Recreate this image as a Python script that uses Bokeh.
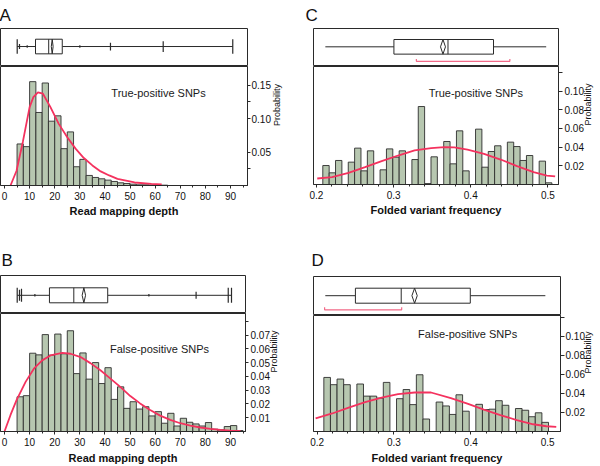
import math
from bokeh.plotting import figure
from bokeh.models import Range1d, FixedTicker, Label
from bokeh.layouts import column, row
from bokeh.embed import file_html
from bokeh.resources import INLINE

# ---------------- data ----------------
PANEL_LETTERS = ["A", "B", "C", "D"]
GROUP_TEXT = ["True-positive SNPs", "False-positive SNPs", "True-positive SNPs", "False-positive SNPs"]
X_TITLES = ["Read mapping depth", "Read mapping depth", "Folded variant frequency", "Folded variant frequency"]
Y_TITLE = "Probability"

DEPTH_XTICKS = [0, 10, 20, 30, 40, 50, 60, 70, 80, 90]
DEPTH_XTICK_LABELS = ["0", "10", "20", "30", "40", "50", "60", "70", "80", "90"]
DEPTH_XMINOR = [5, 15, 25, 35, 45, 55, 65, 75, 85, 95]
FREQ_XTICKS = [0.2, 0.3, 0.4, 0.5]
FREQ_XTICK_LABELS = ["0.2", "0.3", "0.4", "0.5"]
FREQ_XMINOR = [0.22, 0.24, 0.26, 0.28, 0.32, 0.34, 0.36, 0.38, 0.42, 0.44, 0.46, 0.48]

A_YTICKS = [0.025, 0.05, 0.10, 0.125, 0.15]
A_YTICK_LABELS = ["", "0.05", "0.10", "", "0.15"]
B_YTICKS = [0.01, 0.02, 0.03, 0.04, 0.05, 0.06, 0.07, 0.08]
B_YTICK_LABELS = ["0.01", "0.02", "0.03", "0.04", "0.05", "0.06", "0.07", ""]
CD_YTICKS = [0.02, 0.04, 0.06, 0.08, 0.10, 0.12]
CD_YTICK_LABELS = ["0.02", "0.04", "0.06", "0.08", "0.10", ""]

# A: true-positive SNPs, read mapping depth
A_BIN_START = 5.0
A_BIN_WIDTH = 2.5
A_HIST = [0.062, 0.058, 0.155, 0.109, 0.153, 0.096, 0.104, 0.055, 0.080, 0.028,
          0.039, 0.015, 0.012, 0.010, 0.008, 0.006, 0.004, 0.003, 0.002, 0.001,
          0.001, 0.0007, 0.0005, 0.0005]
A_CURVE_X = [2.4, 4.8, 7.3, 10.0, 11.5, 13.3, 15.3, 18.3, 21.6, 25.0, 28.3, 31.6,
             35.0, 38.3, 41.7, 45.0, 51.8, 58.5, 62.6]
A_CURVE_Y = [0.0, 0.022, 0.065, 0.117, 0.132, 0.139, 0.137, 0.117, 0.092, 0.072,
             0.055, 0.041, 0.030, 0.021, 0.015, 0.010, 0.0045, 0.0025, 0.0015]
A_BOX = [5.06, 12.35, 17.6, 23.0, 90.9]       # whisker low, Q1, median, Q3, whisker high
A_MEAN = 19.0
A_MARKS = [5.06, 5.97, 9.04, 30.0, 42.2, 63.2, 90.9]

# B: false-positive SNPs, read mapping depth
B_BIN_START = 5.0
B_BIN_WIDTH = 2.5
B_HIST = [0.0252, 0.026, 0.0568, 0.0556, 0.0703, 0.0554, 0.0707, 0.0564, 0.0731, 0.042,
          0.057, 0.038, 0.050, 0.0348, 0.0463, 0.0233, 0.0324, 0.0168, 0.0216, 0.0163,
          0.018, 0.0113, 0.0144, 0.006, 0.0132, 0.004, 0.0096, 0.0067, 0.0055, 0.004,
          0.0065, 0.0017, 0.0012, 0.0036, 0.0043, 0.0007]
B_CURVE_X = [0.0, 2.4, 4.8, 8.4, 11.7, 15.0, 18.3, 23.0, 26.3, 30.3, 34.2, 38.2, 42.2,
             46.1, 50.1, 54.0, 58.0, 62.0, 66.0, 70.0, 74.0, 78.0, 82.0, 86.0, 90.0, 94.0]
B_CURVE_Y = [0.0, 0.012, 0.0228, 0.036, 0.0456, 0.0516, 0.0552, 0.0571, 0.0564, 0.054,
             0.0496, 0.0444, 0.0384, 0.0324, 0.0257, 0.0204, 0.0156, 0.0115, 0.0084,
             0.006, 0.0043, 0.0029, 0.0019, 0.0012, 0.0007, 0.0005]
B_BOX = [5.06, 17.9, 27.6, 41.1, 90.4]
B_MEAN = 31.6
B_MARKS = [5.06, 5.97, 6.77, 12.1, 57.5, 76.3, 89.1, 90.4]

# C: true-positive SNPs, folded variant frequency
C_BIN_START = 0.2082
C_BIN_WIDTH = 0.00825
C_HIST = [0.0203, 0.0125, 0.0257, 0.0, 0.0239, 0.0389, 0.0146, 0.036, 0.0, 0.0157,
          0.0381, 0.0292, 0.036, 0.0, 0.0267, 0.0834, 0.001, 0.0296, 0.0, 0.046,
          0.0221, 0.0574, 0.0146, 0.0, 0.0592, 0.0185, 0.0353, 0.0414, 0.0, 0.0453,
          0.0406, 0.0257, 0.031, 0.0, 0.025, 0.0018]
C_CURVE_X = [0.201, 0.2202, 0.2415, 0.263, 0.2845, 0.3058, 0.3272, 0.3487, 0.3658,
             0.3787, 0.3958, 0.4172, 0.4387, 0.46, 0.4815, 0.4987, 0.5094]
C_CURVE_Y = [0.0064, 0.0078, 0.0125, 0.0185, 0.025, 0.031, 0.0364, 0.0389, 0.0399,
             0.0396, 0.0374, 0.0328, 0.0267, 0.0196, 0.0132, 0.0096, 0.0086]
C_BOX = [0.2115, 0.3004, 0.3705, 0.4295, 0.4978]
C_MEAN = 0.364
C_SHORTEST_HALF = [0.3295, 0.4507]

# D: false-positive SNPs, folded variant frequency
D_BIN_START = 0.2087
D_BIN_WIDTH = 0.0086
D_HIST = [0.0567, 0.0491, 0.055, 0.0491, 0.0, 0.0498, 0.0371, 0.0371, 0.035, 0.0515,
          0.0, 0.0344, 0.044, 0.0282, 0.0595, 0.0131, 0.0, 0.0309, 0.0268, 0.0179,
          0.0385, 0.0213, 0.0, 0.0285, 0.023, 0.0234, 0.0323, 0.0275, 0.0, 0.0241,
          0.0223, 0.0155, 0.0196, 0.0096]
D_CURVE_X = [0.198, 0.2196, 0.241, 0.2625, 0.2839, 0.3053, 0.3268, 0.3482, 0.374,
             0.3955, 0.417, 0.4384, 0.4598, 0.4812, 0.4983, 0.5112]
D_CURVE_Y = [0.0137, 0.0189, 0.0251, 0.0309, 0.0354, 0.0392, 0.0409, 0.0409, 0.035,
             0.0292, 0.023, 0.0172, 0.012, 0.0076, 0.0055, 0.0048]
D_BOX = [0.2106, 0.2498, 0.3094, 0.3993, 0.497]
D_MEAN = 0.3268
D_SHORTEST_HALF = [0.2097, 0.31]

# ---------------- styles / layout (page pixels) ----------------
BAR_FILL = "#b7c7b0"
BAR_LINE = "#2e2e2e"
CURVE = "#f4325e"
BRACKET = "#f26a88"
INK = "#2a2a2a"
TXT = "#111111"
FONT = "Liberation Sans"
CW, CH = 300, 233

# frame = (left, right, top, separator, bottom) in page pixels
GEOM = {
    "A": dict(canvas=(0, 0), frame=(0, 247, 27, 66, 185),
              xcal=((0, 4.0), (90, 230.0)), yk=0.05 / 33.5,
              box=(38, 53), dw=0.9, mark_h=[7.5, 2.5, 1.2, 1.2, 4.0, 5.5, 7.5],
              t_off=-1, t_std=7, note=(158, 92), ytick=3, ystd=(1, 3), xstd=(3, 2)),
    "B": dict(canvas=(0, CH), frame=(0, 245, 275, 313, 432),
              xcal=((0, 4.0), (90, 230.0)), yk=0.01 / 13.9,
              box=(287.3, 302.3), dw=1.7, mark_h=[7.5, 5.5, 6.5, 1.2, 1.2, 3.5, 7.5, 7.5],
              t_off=1, t_std=12, note=(159, 349.3), ytick=3, ystd=(2, 1), xstd=(3, 3)),
    "C": dict(canvas=(CW, 0), frame=(313, 560, 27, 66, 184),
              xcal=((0.2, 316.0), (0.5, 549.3)), yk=0.02 / 18.7,
              box=(38.3, 53.3), dw=2.5, bracket=60.7,
              t_off=-8, t_std=7, note=(476.7, 92.3), ytick=4, ystd=(2, 1), xstd=(3, 2)),
    "D": dict(canvas=(CW, CH), frame=(313, 563, 276, 315, 433),
              xcal=((0.2, 316.7), (0.5, 550.0)), yk=0.02 / 19.4,
              box=(287.7, 302.7), dw=2.7, bracket=309.3,
              t_off=-2, t_std=14, note=(469, 334.3), ytick=4, ystd=(1, 0), xstd=(3, 3)),
}


def make_panel(key, letter, note, xtitle, hist_start, hist_width, hist, cx, cy,
               box, mean, marks, half, xticks, xlabels, xminor, yticks, ylabels):
    g = GEOM[key]
    ox, oy = g["canvas"]
    fl, fr, ft, fs, fb = g["frame"]
    (v1, p1), (v2, p2) = g["xcal"]
    upx = (v2 - v1) / (p2 - p1)
    x_start = v1 + (fl - p1) * upx
    x_end = v1 + (fr - p1) * upx
    common = dict(width=CW, output_backend="svg", toolbar_location=None,
                  min_border_left=fl - ox, min_border_right=ox + CW - fr,
                  outline_line_color=INK, outline_line_width=1,
                  background_fill_color="white", border_fill_color="white")

    # ---- box-plot strip (x in data units, y in page pixels) ----
    pb = figure(height=fs - oy, x_range=Range1d(x_start, x_end), y_range=Range1d(fs, ft),
                x_axis_location=None, y_axis_location=None,
                min_border_top=ft - oy, min_border_bottom=0, **common)
    pb.grid.visible = False
    bt, bb = g["box"]
    c = (bt + bb) / 2.0
    lo, q1, med, q3, hi = box
    pb.segment(x0=[lo, q3], y0=[c, c], x1=[q1, hi], y1=[c, c], line_color=INK, line_width=1)
    pb.quad(left=[q1], right=[q3], bottom=[bb], top=[bt], fill_color="white",
            line_color=INK, line_width=1)
    pb.segment(x0=[med], y0=[bt], x1=[med], y1=[bb], line_color=INK, line_width=1)
    dw = g["dw"] * upx
    pb.patch([mean - dw, mean, mean + dw, mean], [c, bt, c, bb], fill_color="white",
             line_color=INK, line_width=1)
    if marks:
        mh = g["mark_h"]
        pb.segment(x0=marks, y0=[c - m for m in mh], x1=marks, y1=[c + m for m in mh],
                   line_color=INK, line_width=1.2)
    if half:
        yb = g["bracket"]
        pb.line([half[0], half[0], half[1], half[1]], [yb - 2.5, yb, yb, yb - 2.5],
                line_color=BRACKET, line_width=1.2)
    pb.title.text = letter
    pb.title.text_font = FONT
    pb.title.text_font_size = "17px"
    pb.title.text_font_style = "normal"
    pb.title.text_color = TXT
    pb.title.align = "left"
    pb.title.offset = g["t_off"]
    pb.title.standoff = g["t_std"]

    # ---- histogram ----
    y_end = (fb - fs) * g["yk"]
    ph = figure(height=oy + CH - fs, x_range=Range1d(x_start, x_end), y_range=Range1d(0, y_end),
                y_axis_location="right", title_location=None,
                min_border_top=0, min_border_bottom=oy + CH - fb, **common)
    ph.grid.visible = False
    ph.extra_x_ranges = {"px": Range1d(fl, fr)}
    ph.extra_y_ranges = {"px": Range1d(fb, fs)}
    lefts = [hist_start + i * hist_width for i in range(len(hist))]
    rights = [x + hist_width for x in lefts]
    ph.quad(left=lefts, right=rights, bottom=0, top=hist, fill_color=BAR_FILL,
            line_color=BAR_LINE, line_width=0.9)
    ph.line(cx, cy, line_color=CURVE, line_width=1.8)
    ph.add_layout(Label(x=g["note"][0], y=g["note"][1], x_range_name="px", y_range_name="px",
                        text=note, text_font=FONT, text_font_size="11px", text_color="#1a1a1a",
                        text_align="center", text_baseline="middle"))

    xa = ph.xaxis[0]
    xa.ticker = FixedTicker(ticks=xticks, minor_ticks=xminor)
    xa.major_label_overrides = dict(zip(xticks, xlabels))
    xa.axis_label = xtitle
    xa.axis_label_text_font = FONT
    xa.axis_label_text_font_size = "11px"
    xa.axis_label_text_font_style = "bold"
    xa.axis_label_text_color = TXT
    xa.axis_label_standoff = g["xstd"][1]
    xa.major_label_text_font = FONT
    xa.major_label_text_font_size = "10px"
    xa.major_label_text_color = TXT
    xa.major_label_standoff = g["xstd"][0]
    xa.major_tick_in = 0
    xa.major_tick_out = 3
    xa.minor_tick_in = 0
    xa.minor_tick_out = 2
    xa.axis_line_color = INK
    xa.major_tick_line_color = INK
    xa.minor_tick_line_color = INK

    ya = ph.yaxis[0]
    ya.ticker = FixedTicker(ticks=yticks, minor_ticks=[])
    ya.major_label_overrides = dict(zip(yticks, ylabels))
    ya.axis_label = Y_TITLE
    ya.axis_label_orientation = math.pi / 2
    ya.axis_label_text_font = FONT
    ya.axis_label_text_font_size = "9px"
    ya.axis_label_text_font_style = "normal"
    ya.axis_label_text_color = TXT
    ya.axis_label_standoff = g["ystd"][1]
    ya.major_label_text_font = FONT
    ya.major_label_text_font_size = "10px"
    ya.major_label_text_color = TXT
    ya.major_label_standoff = g["ystd"][0]
    ya.major_tick_in = 0
    ya.major_tick_out = g["ytick"]
    ya.minor_tick_out = 0
    ya.axis_line_color = INK
    ya.major_tick_line_color = INK
    return column(pb, ph)


pA = make_panel("A", PANEL_LETTERS[0], GROUP_TEXT[0], X_TITLES[0], A_BIN_START, A_BIN_WIDTH,
                A_HIST, A_CURVE_X, A_CURVE_Y, A_BOX, A_MEAN, A_MARKS, None,
                DEPTH_XTICKS, DEPTH_XTICK_LABELS, DEPTH_XMINOR, A_YTICKS, A_YTICK_LABELS)
pB = make_panel("B", PANEL_LETTERS[1], GROUP_TEXT[1], X_TITLES[1], B_BIN_START, B_BIN_WIDTH,
                B_HIST, B_CURVE_X, B_CURVE_Y, B_BOX, B_MEAN, B_MARKS, None,
                DEPTH_XTICKS, DEPTH_XTICK_LABELS, DEPTH_XMINOR, B_YTICKS, B_YTICK_LABELS)
pC = make_panel("C", PANEL_LETTERS[2], GROUP_TEXT[2], X_TITLES[2], C_BIN_START, C_BIN_WIDTH,
                C_HIST, C_CURVE_X, C_CURVE_Y, C_BOX, C_MEAN, None, C_SHORTEST_HALF,
                FREQ_XTICKS, FREQ_XTICK_LABELS, FREQ_XMINOR, CD_YTICKS, CD_YTICK_LABELS)
pD = make_panel("D", PANEL_LETTERS[3], GROUP_TEXT[3], X_TITLES[3], D_BIN_START, D_BIN_WIDTH,
                D_HIST, D_CURVE_X, D_CURVE_Y, D_BOX, D_MEAN, None, D_SHORTEST_HALF,
                FREQ_XTICKS, FREQ_XTICK_LABELS, FREQ_XMINOR, CD_YTICKS, CD_YTICK_LABELS)

root = column(row(pA, pC), row(pB, pD))

# keep the fixed-size layout from being squeezed by page margins or scrollbars
try:
    from bokeh.models import GlobalInlineStyleSheet
    root.stylesheets = [GlobalInlineStyleSheet(
        css="html, body { margin: 0; padding: 0; overflow: hidden; }")]
except Exception:
    pass

open("out.html", "w").write(file_html(root, INLINE))
